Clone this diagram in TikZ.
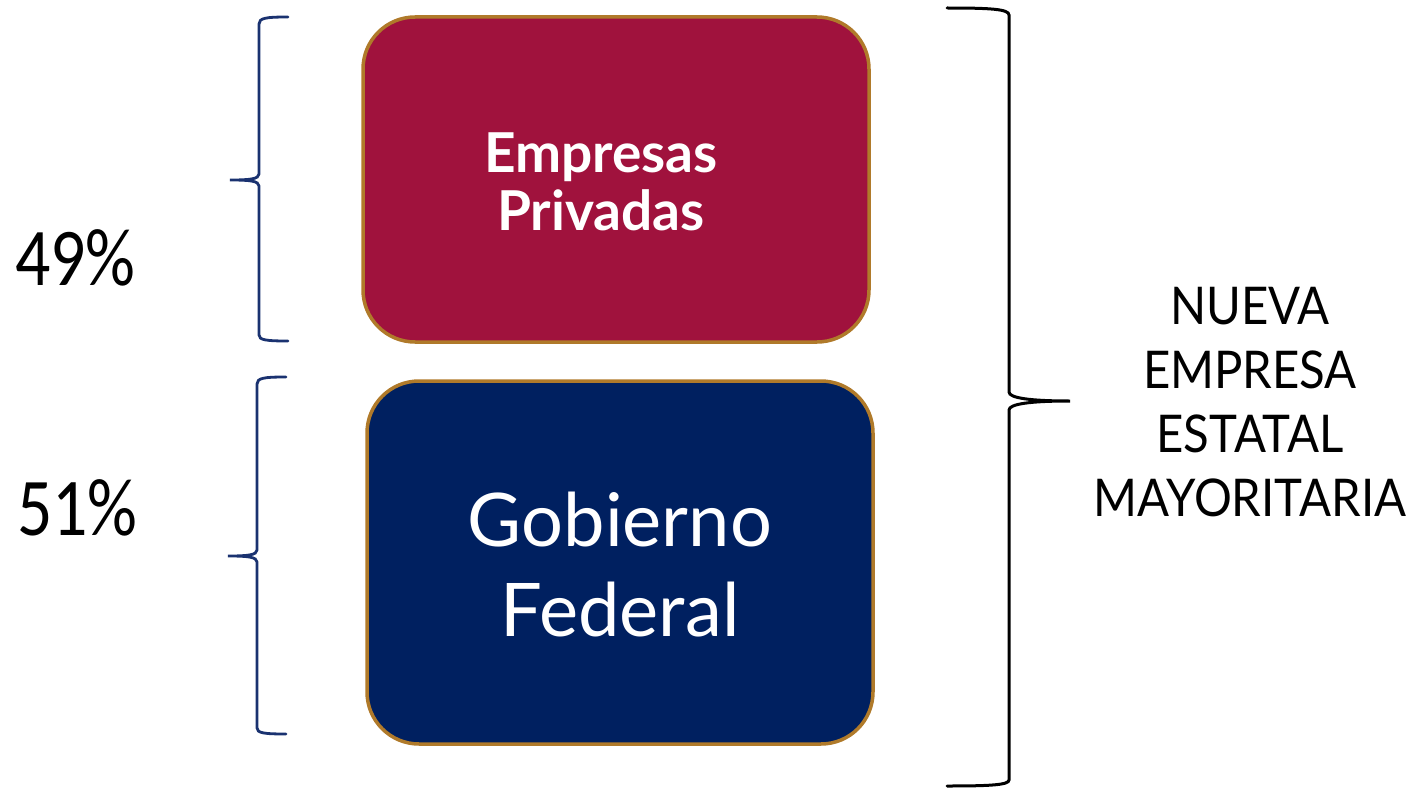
\documentclass[tikz,border=0pt]{standalone}
\usepackage{fontspec}
\setmainfont{Lato}
\newfontfamily\numfont{Carlito}
\definecolor{boxred}{HTML}{A0123D}
\definecolor{boxblue}{HTML}{002060}
\definecolor{boxgold}{HTML}{B07A2A}
\definecolor{bracenavy}{HTML}{1A3270}
\begin{document}
\begin{tikzpicture}[x=1pt,y=-1pt,
  panel/.style={draw=boxgold, line width=3.5pt, rounded corners=52pt, inner sep=0pt},
  lbrace/.style={draw=bracenavy, line width=2.8pt, line cap=round},
  rbrace/.style={draw=black, line width=3pt, line cap=round},
  pct/.style={font=\numfont\fontsize{82}{90}\selectfont, inner sep=0pt, anchor=base west}]
\useasboundingbox (0,0) rectangle (1409,792);
% boxes
\node[panel, fill=boxred, minimum width=506pt, minimum height=325pt] (priv) at (616,179.5) {};
\node[panel, fill=boxblue, minimum width=506pt, minimum height=363pt] (gob) at (620,562.5) {};
\node[text=white, align=center, font=\bfseries\fontsize{55}{58}\selectfont] (privtxt) at (601,182) {Empresas\\Privadas};
\node[text=white, align=center, font=\fontsize{74}{90}\selectfont] (gobtxt) at (620,565) {Gobierno\\Federal};
% percentages
\node[pct] (p49) at (15,285) {\scalebox{0.85}[1]{49\%}};
\node[pct] (p51) at (17,535) {\scalebox{0.85}[1]{51\%}};
% right label
\node[align=center, font=\fontsize{52}{64}\selectfont, inner sep=0pt] (nueva) at (1250,402) {\scalebox{0.91}[1]{NUEVA}\\\scalebox{0.91}[1]{EMPRESA}\\\scalebox{0.91}[1]{ESTATAL}\\\scalebox{0.91}[1]{MAYORITARIA}};
% upper left brace
\draw[lbrace] (288,17) .. controls (266,17) and (259,18) .. (259,24)
  -- (259,174) .. controls (259,179) and (250,180) .. (230,180)
  .. controls (250,180) and (259,181) .. (259,186)
  -- (259,335) .. controls (259,340) and (266,341) .. (288,341);
% lower left brace
\draw[lbrace] (286,377) .. controls (264,377) and (257,378) .. (257,384)
  -- (257,550) .. controls (257,555) and (248,556) .. (228,556)
  .. controls (248,556) and (257,557) .. (257,562)
  -- (257,728) .. controls (257,733) and (264,734) .. (286,734);
% right brace
\draw[rbrace] (947,8) .. controls (990,8) and (1009,9) .. (1009,15)
  -- (1009,392) .. controls (1009,398) and (1030,401) .. (1070,401)
  .. controls (1030,401) and (1009,404) .. (1009,410)
  -- (1009,780) .. controls (1009,785) and (990,786) .. (947,786);
\end{tikzpicture}
\end{document}
